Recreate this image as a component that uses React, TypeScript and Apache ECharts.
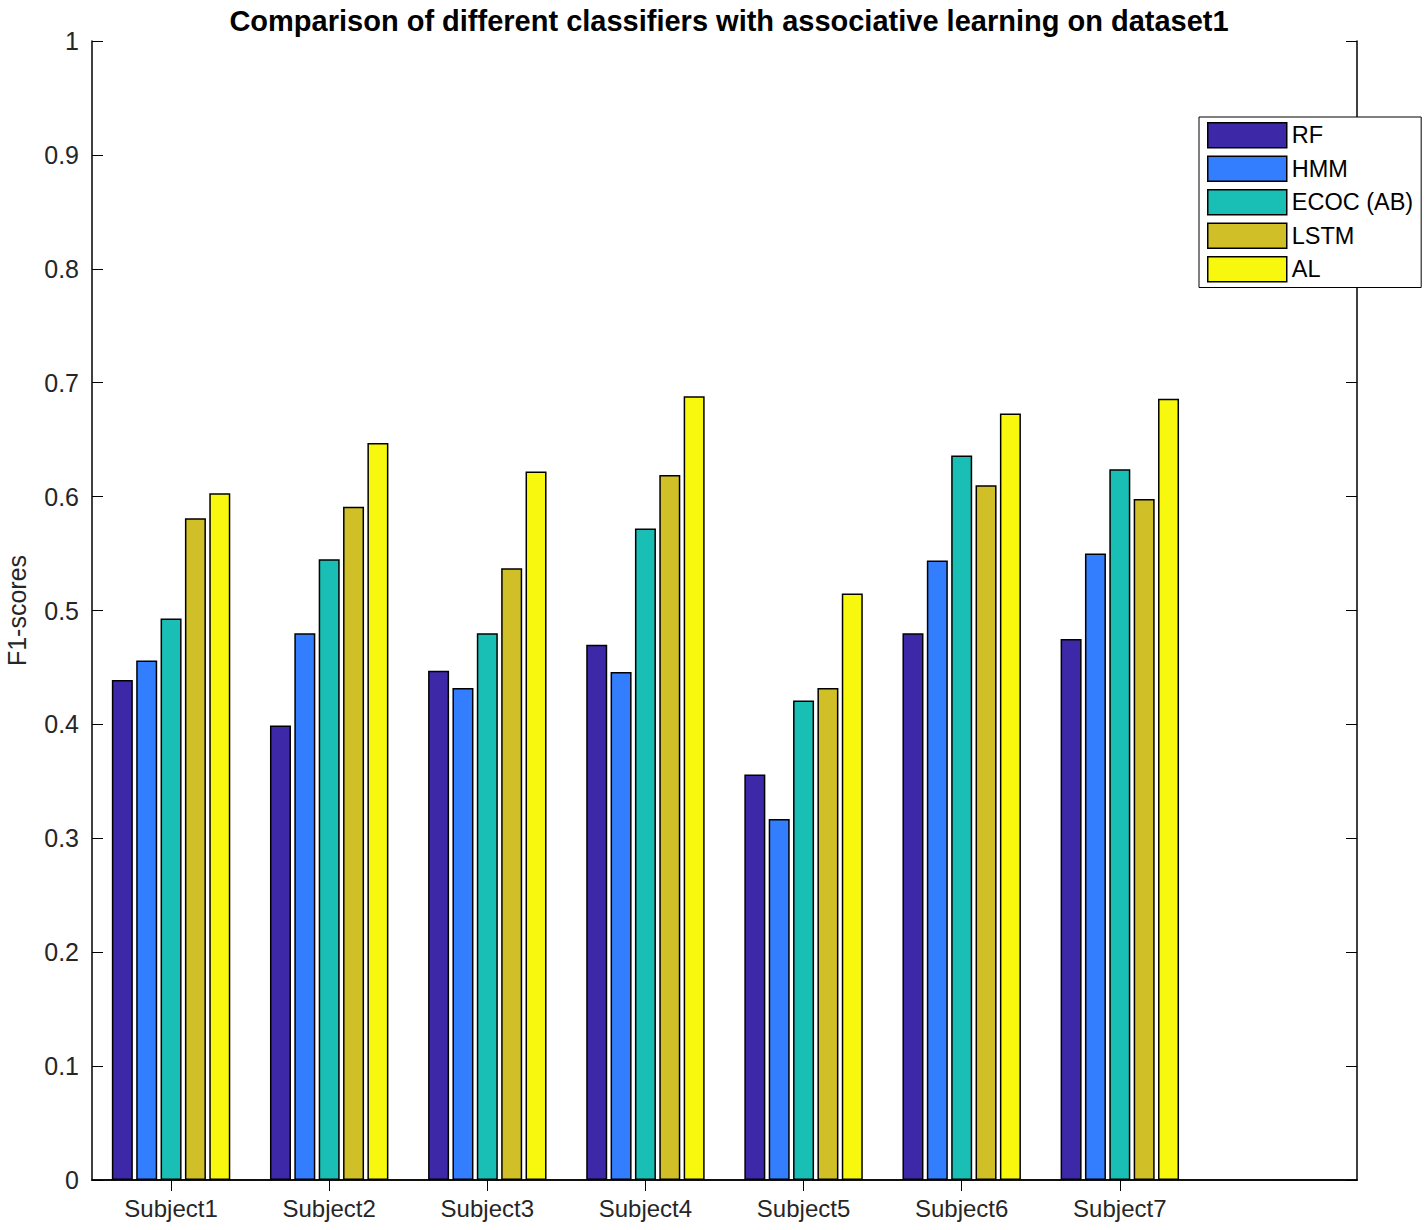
import React, { useEffect, useRef } from "react";
import * as echarts from "echarts";

const categories = ["Subject1", "Subject2", "Subject3", "Subject4", "Subject5", "Subject6", "Subject7", ""];
const seriesNames = ["RF", "HMM", "ECOC (AB)", "LSTM", "AL"];
const rf = [0.439, 0.399, 0.447, 0.470, 0.356, 0.480, 0.475];
const hmm = [0.456, 0.480, 0.432, 0.446, 0.317, 0.544, 0.550];
const ecoc = [0.493, 0.545, 0.480, 0.572, 0.421, 0.636, 0.624];
const lstm = [0.581, 0.591, 0.537, 0.619, 0.432, 0.610, 0.598];
const al = [0.603, 0.647, 0.622, 0.688, 0.515, 0.673, 0.686];
const colors = ["#3d28a8", "#337dff", "#19bfb5", "#d1bf27", "#f8f80f"];

const FONT = "'Liberation Sans', Arial, Helvetica, sans-serif";

export default function App() {
  const ref = useRef<HTMLDivElement>(null);
  useEffect(() => {
    if (!ref.current) return;
    const chart = echarts.init(ref.current, undefined, { renderer: "svg" });
    const values = [rf, hmm, ecoc, lstm, al];
    const tickFn = (i: number) => i < 7;
    chart.setOption({
      animation: false,
      backgroundColor: "#ffffff",
      textStyle: { fontFamily: FONT },
      title: {
        text: "Comparison of different classifiers with associative learning on dataset1",
        left: 724,
        textAlign: "center",
        top: 1,
        textStyle: { fontFamily: FONT, fontSize: 29, fontWeight: "bold", color: "#000" },
      },
      legend: {
        orient: "vertical",
        left: 1199,
        top: 117,
        itemWidth: 79,
        itemHeight: 25,
        itemGap: 7,
        padding: [5, 8, 5, 8],
        borderColor: "#000",
        borderWidth: 1,
        backgroundColor: "#fff",
        icon: "rect",
        itemStyle: { borderColor: "#000", borderWidth: 1.5 },
        textStyle: { fontFamily: FONT, fontSize: 23.5, lineHeight: 25, color: "#000", padding: [0, 0, 0, 0] },
        data: seriesNames,
      },
      grid: { left: 92, right: 71, top: 41, bottom: 50, containLabel: false, outerBoundsMode: "none" },
      xAxis: [
        {
          type: "category",
          data: categories,
          position: "bottom",
          boundaryGap: true,
          axisLine: { show: true, lineStyle: { color: "#000", width: 1.5 } },
          axisTick: { show: true, inside: true, length: 11, alignWithLabel: true, interval: tickFn, lineStyle: { color: "#000", width: 1 } },
          axisLabel: { show: true, margin: 16, fontFamily: FONT, fontSize: 24, color: "#262626", interval: 0 },
          splitLine: { show: false },
        },
        {
          type: "category",
          data: categories,
          position: "top",
          boundaryGap: true,
          axisLine: { show: true, lineStyle: { color: "#000", width: 1.5 } },
          axisTick: { show: true, inside: true, length: 11, alignWithLabel: true, interval: tickFn, lineStyle: { color: "#000", width: 1 } },
          axisLabel: { show: false },
          splitLine: { show: false },
        },
      ],
      yAxis: [
        {
          type: "value",
          min: 0,
          max: 1,
          interval: 0.1,
          position: "left",
          name: "F1-scores",
          nameLocation: "middle",
          nameGap: 63,
          nameTextStyle: { fontFamily: FONT, fontSize: 25, color: "#262626" },
          axisLine: { show: true, lineStyle: { color: "#000", width: 1.5 } },
          axisTick: { show: true, inside: true, length: 11, lineStyle: { color: "#000", width: 1 } },
          axisLabel: {
            margin: 13,
            fontFamily: FONT,
            fontSize: 25,
            color: "#262626",
            formatter: (v: number) => String(Number(v.toFixed(1))),
          },
          splitLine: { show: false },
        },
        {
          type: "value",
          min: 0,
          max: 1,
          interval: 0.1,
          position: "right",
          axisLine: { show: true, lineStyle: { color: "#000", width: 1.5 } },
          axisTick: { show: true, inside: true, length: 11, lineStyle: { color: "#000", width: 1 } },
          axisLabel: { show: false },
          splitLine: { show: false },
        },
      ],
      series: seriesNames.map((name, i) => ({
        name,
        type: "bar",
        xAxisIndex: 0,
        yAxisIndex: 0,
        data: values[i],
        barWidth: 21,
        barGap: "16%",
        itemStyle: { color: colors[i], borderColor: "#000", borderWidth: 1.5 },
      })),
    });
    return () => chart.dispose();
  }, []);
  return <div ref={ref} style={{ width: 1428, height: 1230, position: "absolute", left: 0, top: 0 }} />;
}
